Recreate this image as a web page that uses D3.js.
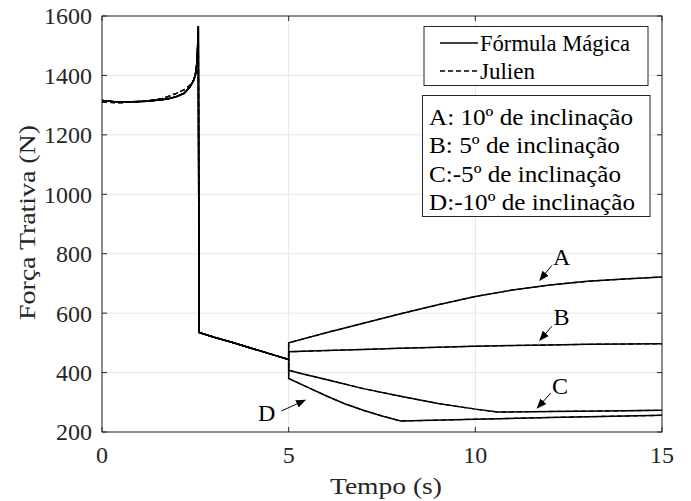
<!DOCTYPE html>
<html><head><meta charset="utf-8">
<script src="https://cdn.jsdelivr.net/npm/d3@7"></script>
<style>body{margin:0;background:#fff}svg{display:block}</style>
</head><body>
<svg id="c" width="691" height="501"></svg>
<script>
// ---- data ----
const xTicks = [0, 5, 10, 15];
const yTicks = [200, 400, 600, 800, 1000, 1200, 1400, 1600];

// initial phase (0 - 2.6 s)
const tInit   = [0, 0.4, 0.8, 1.2, 1.6, 1.8, 2.0, 2.2, 2.35, 2.45, 2.5, 2.54, 2.56, 2.58];
const fMagica = [1316, 1311, 1311, 1313, 1318, 1322, 1329, 1340, 1360, 1382, 1400, 1440, 1490, 1565];
const fJulien = [1311, 1308, 1310, 1314, 1322, 1330, 1340, 1352, 1366, 1384, 1402, 1440, 1490, 1560];

// common phase (2.6 - 5 s)
const tMid = [2.6, 3, 3.5, 4, 4.5, 5];
const fMid = [535, 519, 501, 482, 463, 444];

// branches after 5 s
const tA = [5, 6, 7, 8, 9, 10, 11, 12, 13, 14, 15];
const fA = [500, 534, 566, 598, 628, 656, 678, 695, 707, 715, 722];
const tB = [5, 6, 7, 8, 9, 10, 11, 12, 13, 14, 15];
const fB = [470, 474, 478, 482, 485, 489, 491, 493, 495, 496, 497];
const tC = [5, 5.3, 6, 7, 8, 9, 10, 10.6, 12, 13.5, 15];
const fC = [408, 398, 377, 346, 320, 296, 277, 267, 269, 271, 273];
const tD = [5, 5.5, 6, 6.5, 7, 7.5, 8, 10, 12, 15];
const fD = [380, 351, 322, 295, 273, 254, 237, 243, 249, 256];

const cases = ["A", "B", "C", "D"];
const branchT = [tA, tB, tC, tD];
const branchF = [fA, fB, fC, fD];

const legendSeries = ["Fórmula Mágica", "Julien"];
const legendCases = ["A: 10º de inclinação", "B: 5º de inclinação", "C:-5º de inclinação", "D:-10º de inclinação"];

// annotation labels (data units): label pos, arrow start, arrow end
const annLabel = ["A", "B", "C", "D"];
const annTx = [12.31, 12.31, 12.27, 4.41];
const annTv = [789, 590, 355, 266];
const annX1 = [12.05, 12.05, 12.02, 4.81];
const annV1 = [761, 556, 331, 271];
const annX2 = [11.73, 11.73, 11.66, 5.44];
const annV2 = [711, 509, 281, 307];

// ---- drawing ----
const svg = d3.select("#c");
const L = 102, R = 662, T = 16, B = 432;
const x = d3.scaleLinear().domain([0, 15]).range([L, R]);
const y = d3.scaleLinear().domain([200, 1600]).range([B, T]);
const FONT = "'Liberation Serif','Times New Roman',serif";
const AX = "#262626";

// grid
svg.append("g").selectAll("line").data(xTicks).join("line")
  .attr("x1", d => x(d)).attr("x2", d => x(d)).attr("y1", T).attr("y2", B)
  .attr("stroke", "#e6e6e6").attr("stroke-width", 1);
svg.append("g").selectAll("line").data(yTicks).join("line")
  .attr("y1", d => y(d)).attr("y2", d => y(d)).attr("x1", L).attr("x2", R)
  .attr("stroke", "#e6e6e6").attr("stroke-width", 1);

// build series
function build(fInit, i) {
  const pts = [];
  tInit.forEach((t, k) => pts.push([t, fInit[k]]));
  tMid.forEach((t, k) => pts.push([t, fMid[k]]));
  branchT[i].forEach((t, k) => pts.push([t, branchF[i][k]]));
  return pts;
}
const line = d3.line().x(d => x(d[0])).y(d => y(d[1]));
const plot = svg.append("g");
cases.forEach((c, i) => {
  plot.append("path").attr("d", line(build(fJulien, i))).attr("fill", "none")
    .attr("stroke", "#111").attr("stroke-width", 1.3).attr("stroke-dasharray", "5,3");
});
cases.forEach((c, i) => {
  plot.append("path").attr("d", line(build(fMagica, i))).attr("fill", "none")
    .attr("stroke", "#000").attr("stroke-width", 1.5);
});

// axes box
svg.append("rect").attr("x", L).attr("y", T).attr("width", R - L).attr("height", B - T)
  .attr("fill", "none").attr("stroke", AX).attr("stroke-width", 1);

// ticks inward
const tl = 5;
const gAx = svg.append("g").attr("stroke", AX).attr("stroke-width", 1);
xTicks.forEach(d => {
  gAx.append("line").attr("x1", x(d)).attr("x2", x(d)).attr("y1", B).attr("y2", B - tl);
  gAx.append("line").attr("x1", x(d)).attr("x2", x(d)).attr("y1", T).attr("y2", T + tl);
});
yTicks.forEach(d => {
  gAx.append("line").attr("y1", y(d)).attr("y2", y(d)).attr("x1", L).attr("x2", L + tl);
  gAx.append("line").attr("y1", y(d)).attr("y2", y(d)).attr("x1", R).attr("x2", R - tl);
});

// tick labels
svg.append("g").selectAll("text").data(xTicks).join("text")
  .attr("x", d => x(d)).attr("y", 455).attr("dy", "0.35em")
  .attr("text-anchor", "middle").attr("font-family", FONT).attr("font-size", 24)
  .attr("fill", AX).text(d => d);
svg.append("g").selectAll("text").data(yTicks).join("text")
  .attr("x", L - 10).attr("y", d => y(d)).attr("dy", "0.35em")
  .attr("text-anchor", "end").attr("font-family", FONT).attr("font-size", 24)
  .attr("fill", AX).text(d => d);

// axis labels
svg.append("text").attr("x", 330).attr("y", 486).attr("dy", "0.35em")
  .attr("font-family", FONT).attr("font-size", 24)
  .attr("textLength", 112).attr("lengthAdjust", "spacingAndGlyphs")
  .attr("fill", AX).text("Tempo (s)");
svg.append("text").attr("transform", `translate(27,320) rotate(-90)`)
  .attr("dy", "0.35em").attr("font-family", FONT)
  .attr("textLength", 195).attr("lengthAdjust", "spacingAndGlyphs")
  .attr("font-size", 24).attr("fill", AX).text("Força Trativa (N)");

// annotations
const defs = svg.append("defs");
defs.append("marker").attr("id", "ah").attr("viewBox", "0 0 10 10").attr("refX", 9).attr("refY", 5)
  .attr("markerWidth", 10).attr("markerHeight", 10).attr("markerUnits", "userSpaceOnUse")
  .attr("orient", "auto").append("path").attr("d", "M0,1 L10,5 L0,9 Z").attr("fill", "#000");
annLabel.forEach((s, i) => {
  svg.append("line").attr("x1", x(annX1[i])).attr("y1", y(annV1[i]))
    .attr("x2", x(annX2[i])).attr("y2", y(annV2[i]))
    .attr("stroke", "#000").attr("stroke-width", 1).attr("marker-end", "url(#ah)");
  svg.append("text").attr("x", x(annTx[i])).attr("y", y(annTv[i])).attr("dy", "0.35em")
    .attr("text-anchor", "middle").attr("font-family", FONT).attr("font-size", 24)
    .attr("fill", "#000").text(s);
});

// legend 1
const lg1Len = [150, 55];
const lg1 = svg.append("g");
lg1.append("rect").attr("x", 424).attr("y", 26.5).attr("width", 224).attr("height", 59)
  .attr("fill", "#fff").attr("stroke", AX).attr("stroke-width", 1);
legendSeries.forEach((s, i) => {
  const yy = 43 + i * 28;
  lg1.append("line").attr("x1", 440).attr("x2", 478).attr("y1", yy).attr("y2", yy)
    .attr("stroke", "#000").attr("stroke-width", 1.5)
    .attr("stroke-dasharray", i === 1 ? "5,3" : null);
  lg1.append("text").attr("x", 480).attr("y", yy).attr("dy", "0.35em")
    .attr("font-family", FONT).attr("font-size", 23)
    .attr("textLength", lg1Len[i]).attr("lengthAdjust", "spacingAndGlyphs")
    .attr("fill", "#000").text(s);
});

// legend 2
const lg2Len = [204, 191, 192, 206];
const lg2 = svg.append("g");
lg2.append("rect").attr("x", 422.5).attr("y", 95.5).attr("width", 227.5).attr("height", 121)
  .attr("fill", "#fff").attr("stroke", AX).attr("stroke-width", 1);
legendCases.forEach((s, i) => {
  lg2.append("text").attr("x", 429).attr("y", 117 + i * 28.3).attr("dy", "0.35em")
    .attr("font-family", FONT).attr("font-size", 23)
    .attr("textLength", lg2Len[i]).attr("lengthAdjust", "spacingAndGlyphs")
    .attr("fill", "#000").text(s);
});
</script>
</body></html>
